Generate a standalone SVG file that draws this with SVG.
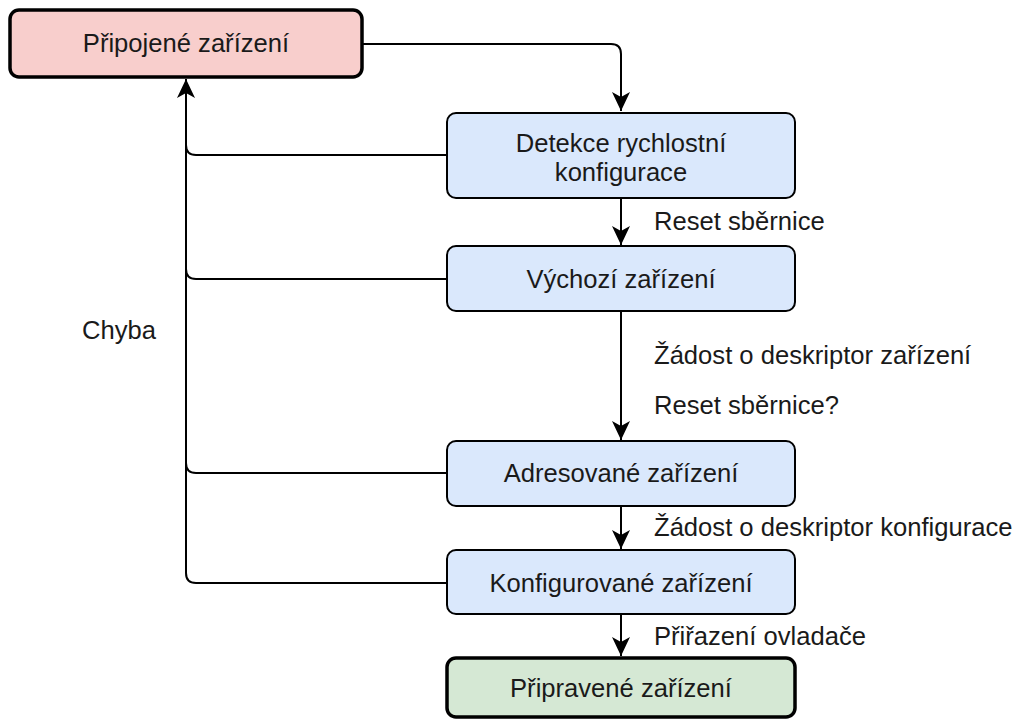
<svg xmlns="http://www.w3.org/2000/svg" width="1023" height="722" viewBox="0 0 1023 722">
<style>
.box{stroke:#000;stroke-width:2}
.thick{stroke-width:3.5}
.blue{fill:#dae8fc}
.pink{fill:#f8cecc}
.green{fill:#d5e8d4}
text{font-family:"Liberation Sans",Arial,sans-serif;font-size:25.6px;fill:#1a1a1a}
.c{text-anchor:middle}
.edge{fill:none;stroke:#000;stroke-width:2}
</style>
<defs>
<marker id="arr" markerUnits="userSpaceOnUse" markerWidth="19" markerHeight="18" viewBox="0 0 19 18" refX="19" refY="9" orient="auto">
<path d="M0,0 L19,9 L0,18 L5,9 z" fill="#000"/>
</marker>
</defs>
<g id="connectors">
<path class="edge" d="M362,44 H611 Q621,44 621,54 V111" marker-end="url(#arr)"/>
<path class="edge" d="M621,198 V245" marker-end="url(#arr)"/>
<path class="edge" d="M621,311 V440" marker-end="url(#arr)"/>
<path class="edge" d="M621,506 V549" marker-end="url(#arr)"/>
<path class="edge" d="M621,614 V656" marker-end="url(#arr)"/>
<path class="edge" d="M447,155 H196 Q186,155 186,145"/>
<path class="edge" d="M447,279 H196 Q186,279 186,269"/>
<path class="edge" d="M447,473 H196 Q186,473 186,463"/>
<path class="edge" d="M447,583 H196 Q186,583 186,573 V79" marker-end="url(#arr)"/>
<text x="654" y="230">Reset sběrnice</text>
<text x="654" y="364">Žádost o deskriptor zařízení</text>
<text x="654" y="414">Reset sběrnice?</text>
<text x="654" y="536">Žádost o deskriptor konfigurace</text>
<text x="654" y="645">Přiřazení ovladače</text>
<text x="82" y="339">Chyba</text>
</g>
<g id="node-pripojene">
<rect class="box thick pink" x="10" y="10" width="352" height="67" rx="9"/>
<text class="c" x="186" y="52">Připojené zařízení</text>
</g>
<g id="node-detekce">
<rect class="box blue" x="447" y="113" width="348" height="85" rx="9"/>
<text class="c" x="621" y="152">Detekce rychlostní</text>
<text class="c" x="621" y="181">konfigurace</text>
</g>
<g id="node-vychozi">
<rect class="box blue" x="447" y="246" width="348" height="65" rx="9"/>
<text class="c" x="621" y="288">Výchozí zařízení</text>
</g>
<g id="node-adresovane">
<rect class="box blue" x="447" y="441" width="348" height="65" rx="9"/>
<text class="c" x="621" y="482">Adresované zařízení</text>
</g>
<g id="node-konfigurovane">
<rect class="box blue" x="447" y="550" width="348" height="64" rx="9"/>
<text class="c" x="621" y="592">Konfigurované zařízení</text>
</g>
<g id="node-pripravene">
<rect class="box thick green" x="447" y="658" width="348" height="59" rx="9"/>
<text class="c" x="621" y="697">Připravené zařízení</text>
</g>
</svg>
